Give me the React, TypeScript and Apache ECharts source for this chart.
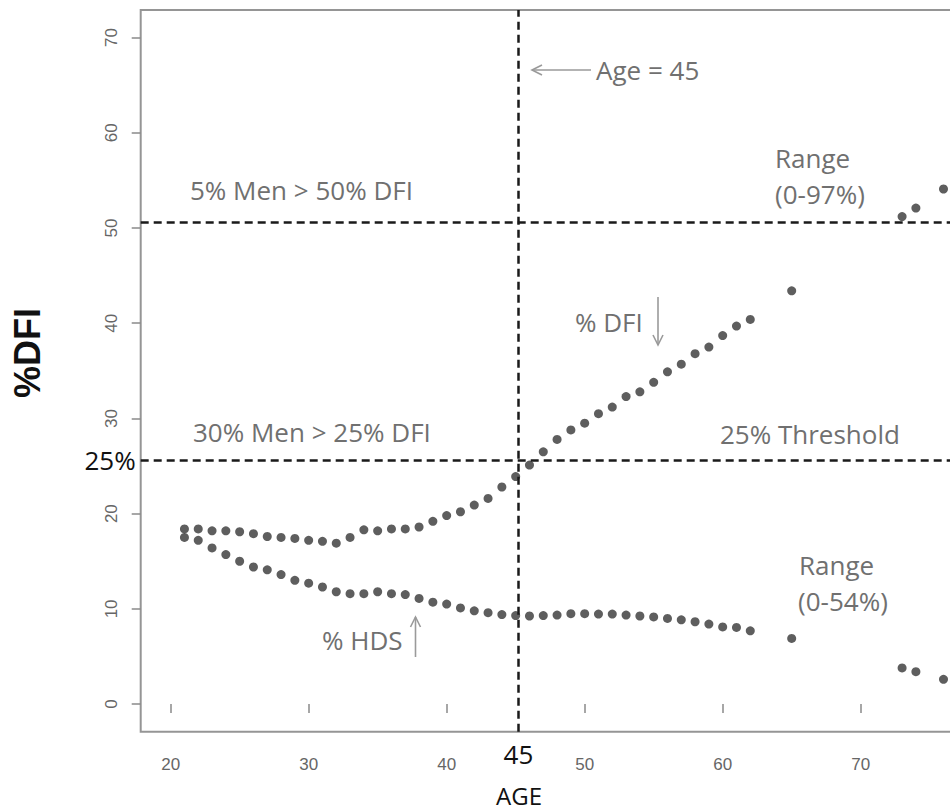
import React, { useEffect, useRef } from "react";
import * as echarts from "echarts";

const ages = [
  21, 22, 23, 24, 25, 26, 27, 28, 29, 30, 31, 32, 33, 34, 35, 36, 37, 38, 39, 40,
  41, 42, 43, 44, 45, 46, 47, 48, 49, 50, 51, 52, 53, 54, 55, 56, 57, 58, 59, 60,
  61, 62, 65, 73, 74, 76,
];
const dfiValues = [
  18.4, 18.4, 18.2, 18.2, 18.1, 17.9, 17.6, 17.5, 17.4, 17.2, 17.1, 16.9, 17.5, 18.3,
  18.2, 18.4, 18.4, 18.6, 19.2, 19.8, 20.2, 20.9, 21.6, 22.8, 23.9, 25.1, 26.5, 27.8,
  28.8, 29.5, 30.5, 31.2, 32.3, 32.8, 33.8, 34.9, 35.7, 36.8, 37.5, 38.7, 39.7, 40.4,
  43.4, 51.2, 52.1, 54.1,
];
const hdsValues = [
  17.5, 17.2, 16.4, 15.7, 15.0, 14.4, 14.1, 13.6, 13.0, 12.7, 12.3, 11.8, 11.6, 11.6,
  11.8, 11.6, 11.5, 11.1, 10.7, 10.5, 10.1, 9.8, 9.6, 9.4, 9.3, 9.25, 9.3, 9.35, 9.5,
  9.5, 9.45, 9.45, 9.35, 9.25, 9.15, 9.0, 8.85, 8.65, 8.4, 8.1, 8.05, 7.7, 6.9, 3.8,
  3.4, 2.6,
];
const xTicks = [20, 30, 40, 50, 60, 70];
const yTicks = [0, 10, 20, 30, 40, 50, 60, 70];
const ageLine = 45.2;
const upperLine = 50.6;
const thresholdLine = 25.6;

const GREY_TEXT = "#707070";
const ANNOT_FONT = '26px "Open Sans"';

export default function App() {
  const ref = useRef<HTMLDivElement>(null);

  useEffect(() => {
    if (!ref.current) return;
    const chart = echarts.init(ref.current, null, { renderer: "svg" });

    const dashStyle = { type: [8, 5], color: "#1a1a1a", width: 2.5 };

    const annot = (text: string, x: number, y: number, color = GREY_TEXT, font = ANNOT_FONT) => ({
      type: "text",
      x,
      y,
      silent: true,
      style: { text, fill: color, font, align: "left", verticalAlign: "middle" },
    });

    const arrowStyle = { stroke: "#9a9a9a", lineWidth: 1.6, fill: "none" };

    chart.setOption({
      animation: false,
      backgroundColor: "#ffffff",
      grid: {
        left: 140.7,
        top: 10,
        width: 858,
        height: 721.7,
        show: true,
        borderColor: "#959595",
        borderWidth: 2,
        containLabel: false,
        outerBoundsMode: "none",
      },
      xAxis: {
        type: "value",
        min: 17.83,
        max: 80,
        axisLine: { show: false },
        splitLine: { show: false },
        axisTick: { show: true, customValues: xTicks, length: 9, lineStyle: { color: "#8a8a8a", width: 1.5 } },
        axisLabel: {
          customValues: xTicks,
          margin: 24,
          fontSize: 17,
          fontFamily: '"Liberation Sans"',
          color: "#666666",
        },
      },
      yAxis: {
        type: "value",
        min: -2.9,
        max: 72.9,
        axisLine: { show: false },
        splitLine: { show: false },
        axisTick: { show: true, customValues: yTicks, length: 9, lineStyle: { color: "#8a8a8a", width: 1.5 } },
        axisLabel: {
          customValues: yTicks,
          rotate: 90,
          margin: 21,
          fontSize: 17,
          fontFamily: '"Liberation Sans"',
          color: "#666666",
        },
      },
      series: [
        {
          name: "% DFI",
          type: "scatter",
          symbolSize: 9,
          itemStyle: { color: "#363636" },
          data: ages.map((a, i) => [a, dfiValues[i]]),
          markLine: {
            silent: true,
            symbol: "none",
            animation: false,
            lineStyle: dashStyle,
            label: { show: false },
            data: [
              {
                xAxis: ageLine,
                label: {
                  show: true,
                  position: "start",
                  formatter: "45",
                  distance: 9,
                  color: "#111111",
                  fontSize: 26,
                  fontFamily: '"Open Sans"',
                },
              },
              { yAxis: upperLine },
              {
                yAxis: thresholdLine,
                label: {
                  show: true,
                  position: "start",
                  formatter: "25%",
                  distance: 5,
                  color: "#111111",
                  fontSize: 26,
                  fontFamily: '"Open Sans"',
                },
              },
            ],
          },
        },
        {
          name: "% HDS",
          type: "scatter",
          symbolSize: 9,
          itemStyle: { color: "#363636" },
          data: ages.map((a, i) => [a, hdsValues[i]]),
        },
      ],
      graphic: [
        {
          type: "text",
          x: 27,
          y: 353,
          rotation: Math.PI / 2,
          silent: true,
          style: {
            text: "%DFI",
            fill: "#111111",
            font: 'bold 36px "Liberation Sans"',
            align: "center",
            verticalAlign: "middle",
          },
        },
        {
          type: "text",
          x: 519,
          y: 795,
          silent: true,
          style: {
            text: "AGE",
            fill: "#111111",
            font: '24px "Open Sans"',
            align: "center",
            verticalAlign: "middle",
          },
        },
        annot("Age = 45", 596, 70),
        annot("5% Men > 50% DFI", 190, 190),
        annot("Range", 775, 158),
        annot("(0-97%)", 775, 194),
        annot("% DFI", 575, 322),
        annot("30% Men > 25% DFI", 193, 432),
        annot("25% Threshold", 720, 434),
        annot("Range", 799, 565),
        annot("(0-54%)", 798, 601),
        annot("% HDS", 322, 640),
        // arrow: Age = 45
        { type: "line", silent: true, shape: { x1: 591, y1: 70, x2: 532, y2: 70 }, style: arrowStyle },
        { type: "polyline", silent: true, shape: { points: [[542, 65], [532, 70], [542, 75]] }, style: arrowStyle },
        // arrow: % DFI (down)
        { type: "line", silent: true, shape: { x1: 658, y1: 297, x2: 658, y2: 345 }, style: arrowStyle },
        { type: "polyline", silent: true, shape: { points: [[653, 335], [658, 345], [663, 335]] }, style: arrowStyle },
        // arrow: % HDS (up)
        { type: "line", silent: true, shape: { x1: 415.5, y1: 657, x2: 415.5, y2: 617 }, style: arrowStyle },
        { type: "polyline", silent: true, shape: { points: [[410.5, 627], [415.5, 617], [420.5, 627]] }, style: arrowStyle },
      ],
    });

    return () => {
      chart.dispose();
    };
  }, []);

  return (
    <div
      ref={ref}
      style={{ position: "fixed", left: 0, top: 0, width: 950, height: 811, background: "#fff" }}
    />
  );
}
